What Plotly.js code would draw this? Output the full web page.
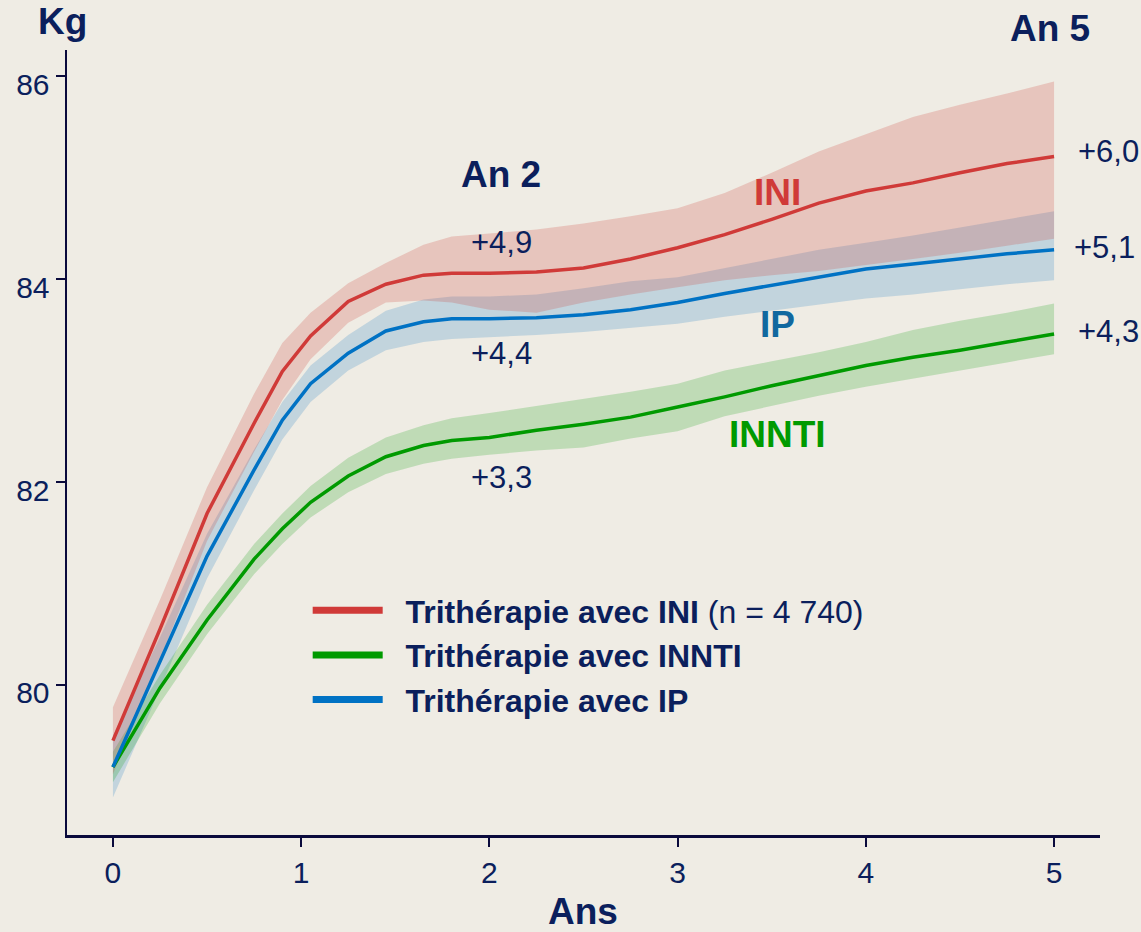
<!DOCTYPE html>
<html>
<head>
<meta charset="utf-8">
<script src="https://cdn.plot.ly/plotly-3.0.1.min.js"></script>
<style>html,body{margin:0;padding:0;background:#efece4;}#chart{width:1141px;height:932px;}</style>
</head>
<body>
<div id="chart"></div>
<script>
// Years since start of therapy
const years = [0, 0.25, 0.5, 0.75, 0.9, 1.05, 1.25, 1.45, 1.65, 1.8, 2.0, 2.25, 2.5, 2.75, 3.0, 3.25, 3.5, 3.75, 4.0, 4.25, 4.5, 4.75, 5.0];

// Trithérapie avec INI
const iniMean  = [79.45, 80.55, 81.69, 82.58, 83.09, 83.44, 83.78, 83.95, 84.04, 84.06, 84.06, 84.07, 84.11, 84.20, 84.31, 84.44, 84.59, 84.75, 84.87, 84.95, 85.05, 85.14, 85.21];
const iniUpper = [79.78, 80.84, 81.95, 82.87, 83.37, 83.67, 83.96, 84.16, 84.34, 84.42, 84.45, 84.49, 84.55, 84.62, 84.70, 84.85, 85.05, 85.26, 85.43, 85.60, 85.72, 85.83, 85.95];
const iniLower = [79.12, 80.25, 81.42, 82.30, 82.81, 83.21, 83.57, 83.77, 83.79, 83.77, 83.70, 83.67, 83.77, 83.85, 83.92, 83.99, 84.04, 84.08, 84.14, 84.20, 84.26, 84.33, 84.40];

// Trithérapie avec IP
const ipMean  = [79.19, 80.22, 81.27, 82.12, 82.61, 82.97, 83.27, 83.49, 83.58, 83.61, 83.61, 83.62, 83.65, 83.70, 83.77, 83.86, 83.94, 84.02, 84.10, 84.15, 84.20, 84.25, 84.29];
const ipUpper = [79.50, 80.47, 81.49, 82.32, 82.79, 83.15, 83.45, 83.69, 83.80, 83.83, 83.83, 83.85, 83.91, 83.98, 84.02, 84.11, 84.20, 84.29, 84.36, 84.43, 84.51, 84.59, 84.67];
const ipLower = [78.89, 79.96, 81.05, 81.92, 82.42, 82.79, 83.10, 83.30, 83.38, 83.41, 83.43, 83.45, 83.48, 83.52, 83.56, 83.63, 83.69, 83.75, 83.81, 83.85, 83.90, 83.95, 83.99];

// Trithérapie avec INNTI
const innntiMean  = [79.19, 79.97, 80.64, 81.24, 81.54, 81.80, 82.06, 82.25, 82.36, 82.41, 82.44, 82.51, 82.57, 82.64, 82.74, 82.84, 82.95, 83.05, 83.15, 83.23, 83.30, 83.38, 83.46];
const innntiUpper = [79.34, 80.10, 80.79, 81.39, 81.69, 81.96, 82.24, 82.44, 82.56, 82.63, 82.68, 82.75, 82.82, 82.89, 82.97, 83.10, 83.19, 83.28, 83.38, 83.50, 83.59, 83.67, 83.76];
const innntiLower = [79.04, 79.82, 80.50, 81.09, 81.39, 81.65, 81.90, 82.08, 82.18, 82.23, 82.27, 82.31, 82.34, 82.43, 82.50, 82.65, 82.75, 82.85, 82.94, 83.02, 83.10, 83.18, 83.26];

const legendNames = ["<b>Trithérapie avec INI</b> (n = 4 740)", "<b>Trithérapie avec INNTI</b>", "<b>Trithérapie avec IP</b>"];
const xTickVals = [0, 1, 2, 3, 4, 5];
const yTickVals = [80, 82, 84, 86];

const NAVY = "#0b1f5c";
const FONT = "Liberation Sans, Arial, sans-serif";
const RED = "#d03a38", GREEN = "#009a00", BLUE = "#0072c4";
const GAP = "\u00a0\u00a0";

function band(lower, upper, fillColor) {
  return {
    x: years.concat(years.slice().reverse()),
    y: upper.concat(lower.slice().reverse()),
    type: "scatter", mode: "lines", fill: "toself",
    fillcolor: fillColor, line: {width: 0}, hoverinfo: "skip", showlegend: false
  };
}
function meanLine(vals, color) {
  return {x: years, y: vals, type: "scatter", mode: "lines",
          line: {color: color, width: 3.5}, showlegend: false};
}
function legendEntry(name, color) {
  return {x: [null], y: [null], type: "scatter", mode: "lines", name: GAP + name,
          line: {color: color, width: 7}, showlegend: true};
}

const data = [
  band(ipLower, ipUpper, "rgba(0,112,192,0.19)"),
  band(innntiLower, innntiUpper, "rgba(0,154,0,0.2)"),
  band(iniLower, iniUpper, "rgba(205,60,50,0.22)"),
  meanLine(innntiMean, GREEN),
  meanLine(ipMean, BLUE),
  meanLine(iniMean, RED),
  legendEntry(legendNames[0], RED),
  legendEntry(legendNames[1], GREEN),
  legendEntry(legendNames[2], BLUE)
];

function ann(text, x, y, size, color, bold) {
  return {text: bold ? "<b>" + text + "</b>" : text, xref: "paper", yref: "paper",
          x: x, y: y, xanchor: "center", yanchor: "middle", showarrow: false,
          font: {family: FONT, size: size, color: color}};
}

const layout = {
  width: 1141, height: 932,
  paper_bgcolor: "#efece4", plot_bgcolor: "#efece4",
  margin: {l: 67, r: 41, t: 50, b: 97},
  font: {family: FONT, color: NAVY},
  xaxis: {
    range: [-0.244, 5.244], tickvals: xTickVals, ticktext: xTickVals.map(String),
    showgrid: false, zeroline: false, showline: true, linecolor: "#0a0a3c", linewidth: 2.5,
    ticks: "outside", ticklen: 9, tickwidth: 2, tickcolor: "#0a0a3c",
    tickfont: {family: FONT, size: 30, color: NAVY}
  },
  yaxis: {
    range: [78.52, 86.26], tickvals: yTickVals, ticktext: yTickVals.map(String),
    showgrid: false, zeroline: false, showline: true, linecolor: "#0a0a3c", linewidth: 2.5,
    ticks: "outside", ticklen: 9, tickwidth: 2, tickcolor: "#0a0a3c",
    tickfont: {family: FONT, size: 30, color: NAVY}, ticklabelshift: 8
  },
  legend: {
    x: 0.233, y: 0.321, xanchor: "left", yanchor: "top",
    bgcolor: "rgba(0,0,0,0)", itemwidth: 70,
    font: {family: FONT, size: 32, color: NAVY}
  },
  annotations: [
    ann("Kg", -0.004, 1.036, 37, NAVY, true),
    ann("An 5", 0.952, 1.028, 37, NAVY, true),
    ann("An 2", 0.420, 0.842, 37, NAVY, true),
    ann("+4,9", 0.421, 0.755, 31, NAVY, false),
    ann("+4,4", 0.421, 0.614, 31, NAVY, false),
    ann("+3,3", 0.421, 0.456, 31, NAVY, false),
    ann("+6,0", 1.008, 0.871, 31, NAVY, false),
    ann("+5,1", 1.004, 0.748, 31, NAVY, false),
    ann("+4,3", 1.008, 0.642, 31, NAVY, false),
    ann("INI", 0.688, 0.819, 37, RED, true),
    ann("IP", 0.688, 0.650, 37, "#11689f", true),
    ann("INNTI", 0.688, 0.510, 37, GREEN, true),
    ann("Ans", 0.4995, -0.097, 37, NAVY, true)
  ]
};

Plotly.newPlot("chart", data, layout, {displayModeBar: false, staticPlot: true});
</script>
</body>
</html>
